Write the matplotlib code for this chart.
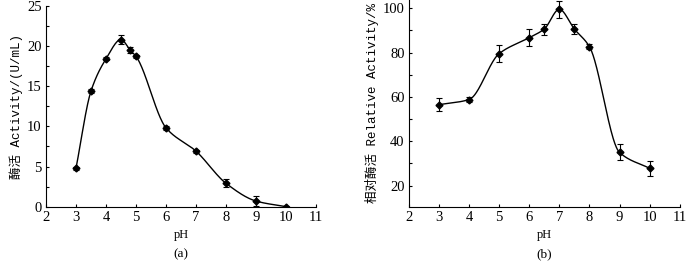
import numpy as np
import matplotlib
matplotlib.use('Agg')
import matplotlib.pyplot as plt
from matplotlib.ticker import MultipleLocator

#fonts: serif numbers, mono latin + CJK fallback for labels
plt.rcParams['font.family'] = ['Liberation Serif', 'Noto Sans CJK SC']
lab_font = ['Liberation Mono', 'Noto Sans CJK SC']

#data
ph_a = [3, 3.5, 4, 4.5, 4.8, 5, 6, 7, 8, 9, 10]
act_a = [4.8, 14.4, 18.4, 20.8, 19.5, 18.7, 9.8, 6.9, 2.9, 0.7, 0.0]
err_a = [0.2, 0.2, 0.2, 0.6, 0.4, 0.2, 0.2, 0.2, 0.5, 0.6, 0.1]

ph_b = [3, 4, 5, 6, 6.5, 7, 7.5, 8, 9, 10]
act_b = [56.5, 58.8, 79.5, 86.7, 90.6, 99.5, 90.6, 82.7, 35.0, 27.8]
err_b = [2.8, 1.0, 3.8, 3.7, 2.5, 3.7, 2.2, 1.2, 3.6, 3.5]


#monotone cubic (pchip) through the points, for the smooth line
def smooth(x, y, n=400):
    x = np.asarray(x, float)
    y = np.asarray(y, float)
    h = np.diff(x)
    d = np.diff(y)/h
    m = np.zeros(len(x))
    for i in range(1, len(x)-1):
        if d[i-1]*d[i] > 0:
            w1 = 2*h[i] + h[i-1]
            w2 = h[i] + 2*h[i-1]
            m[i] = (w1 + w2)/(w1/d[i-1] + w2/d[i])
    m[0] = d[0]
    m[-1] = d[-1]
    xs = np.linspace(x[0], x[-1], n)
    k = np.clip(np.searchsorted(x, xs) - 1, 0, len(x)-2)
    t = (xs - x[k])/h[k]
    h00 = 2*t**3 - 3*t**2 + 1
    h10 = t**3 - 2*t**2 + t
    h01 = -2*t**3 + 3*t**2
    h11 = t**3 - t**2
    ys = h00*y[k] + h10*h[k]*m[k] + h01*y[k+1] + h11*h[k]*m[k+1]
    return xs, ys


fig = plt.figure(figsize=(7, 2.62), dpi=100)
ax1 = fig.add_axes([0.0657, 0.211, 0.386, 0.767])
ax2 = fig.add_axes([0.584, 0.211, 0.387, 0.789])

panels = [(ax1, ph_a, act_a, err_a, (0, 25), 5, 2.5,
           '酶活 Activity/(U/mL)', '(a)'),
          (ax2, ph_b, act_b, err_b, (10.5, 103.7), 20, 10,
           '相对酶活 Relative Activity/%', '(b)')]

for ax, x, y, e, yl, major, minor, ylab, tag in panels:
    xs, ys = smooth(x, y)
    ax.plot(xs, ys, color='black', lw=1.0)
    ax.errorbar(x, y, yerr=e, fmt='D', ms=3.5, color='black',
                ecolor='black', elinewidth=0.8, capsize=2, capthick=0.8)
    ax.set_xlim(2, 11)
    ax.set_ylim(*yl)
    ax.xaxis.set_major_locator(MultipleLocator(1))
    ax.yaxis.set_major_locator(MultipleLocator(major))
    ax.yaxis.set_minor_locator(MultipleLocator(minor))
    ax.tick_params(direction='in', length=2.5, width=0.8, labelsize=10.5, pad=3)
    ax.tick_params(which='minor', direction='in', length=2, width=0.8)
    ax.spines['top'].set_visible(False)
    ax.spines['right'].set_visible(False)
    ax.set_xlabel('pH', fontsize=9, labelpad=4)
    ax.set_ylabel(ylab, fontsize=9, family=lab_font, labelpad=3)
    #panel tag under the x label
    bb = ax.get_position()
    fig.text((bb.x0 + bb.x1)/2, 8/262, tag, ha='center', va='center',
             fontsize=9.5)

plt.savefig('out.png', dpi=100)
